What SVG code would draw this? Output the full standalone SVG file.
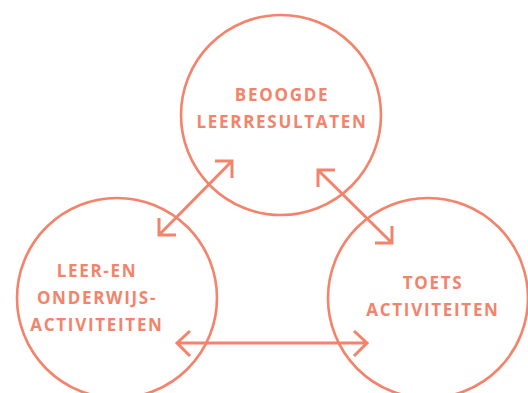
<svg xmlns="http://www.w3.org/2000/svg" width="528" height="393" viewBox="0 0 528 393">
<style>
.c{fill:none;stroke:#F3836A;stroke-width:2.6}
.t{font-family:"Open Sans","Liberation Sans",sans-serif;font-weight:bold;font-size:17px;letter-spacing:1.7px;fill:#F3836A;text-anchor:middle}
.a{fill:none;stroke:#F3836A;stroke-width:3;stroke-linecap:butt}
</style>
<rect width="528" height="393" fill="#fff"/>
<g id="top">
<circle class="c" cx="281" cy="115" r="100"/>
<text class="t" x="282" y="101">BEOOGDE</text>
<text class="t" x="282" y="128">LEERRESULTATEN</text>
</g>
<g id="left">
<circle class="c" cx="117" cy="298" r="100"/>
<text class="t" x="97" y="277">LEER-EN</text>
<text class="t" x="97" y="304">ONDERWIJS-</text>
<text class="t" x="97" y="331">ACTIVITEITEN</text>
</g>
<g id="right">
<circle class="c" cx="428" cy="298" r="100"/>
<text class="t" x="433" y="289">TOETS</text>
<text class="t" x="433" y="316">ACTIVITEITEN</text>
</g>
<g id="connectors">
<path class="a" d="M159,235 L232,161 M215,161 L232,161 L232,178 M159,218 L159,235 L176,235"/>
<path class="a" d="M318,170 L392,243 M318,187 L318,170 L335,170 M375,243 L392,243 L392,226"/>
<path class="a" d="M177,343 L367,343 M190,331 L177,343 L190,356 M354,331 L367,343 L354,356"/>
</g>
</svg>
